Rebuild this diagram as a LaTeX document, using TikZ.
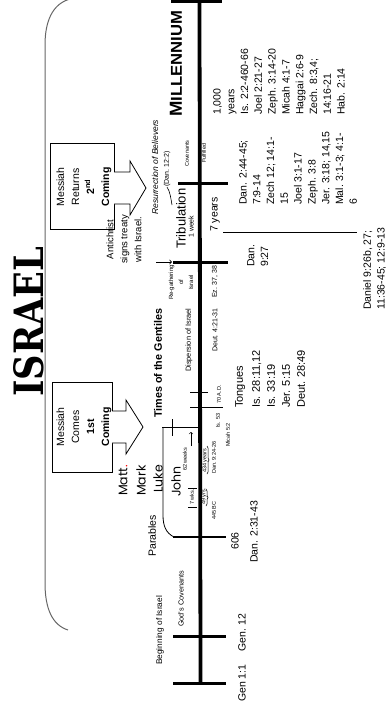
\documentclass[tikz,border=0pt]{standalone}
\usepackage{fontspec}
\setmainfont{Liberation Sans}
\newfontfamily\gospelfont{Poppins}
\newfontfamily\slabfont{DejaVu Serif}
\usepackage{graphicx}
\usetikzlibrary{decorations.pathreplacing}
\begin{document}
\begin{tikzpicture}[x=1pt,y=-1pt,
  rt/.style={rotate=90, inner sep=0pt, anchor=west, font=\fontsize{10.5}{13.8}\selectfont},
  rtl/.style={rotate=90, inner sep=0pt, anchor=north west, align=left, font=\fontsize{10.5}{13.8}\selectfont},
  tiny/.style={rotate=90, inner sep=0pt, anchor=west, font=\fontsize{5.5}{6}\selectfont},
  small/.style={rotate=90, inner sep=0pt, anchor=west, font=\fontsize{7}{8}\selectfont},
  gospel/.style={rotate=90, inner sep=0pt, anchor=west, font=\gospelfont\fontsize{12.5}{14}\selectfont},
  bar/.style={line width=3pt},
  thinbar/.style={line width=1.3pt},
  tick/.style={line width=0.8pt},
  boxtext/.style={rotate=90, inner sep=0pt, align=center, font=\fontsize{10.5}{15}\selectfont},
  blockarrow/.style={draw, line width=0.8pt, fill=white},
]
\useasboundingbox (0,0) rectangle (390,713);
% big bracket
\draw[gray!80!black, line width=1pt] (70,-1) .. controls (52,4) and (45,22) .. (45,45) -- (45,583) .. controls (45,608) and (52,625) .. (68,630);
% title
\node[rotate=90, inner sep=0pt, anchor=south west] (title) at (44,397) {\resizebox{150pt}{30pt}{\slabfont\bfseries ISRAEL}};
% timeline
\coordinate (tltop) at (199.5,0);
\coordinate (tlbot) at (200.5,683);
\draw[line width=3.8pt] (tltop) -- (tlbot);
% bars
\draw[bar] (171,1.5) -- (222,1.5);
\draw[bar] (178,183) -- (228,183);
\draw[bar] (173,262) -- (228,262);
\draw[tick] (190,392) -- (208,392);
\draw[tick] (190,407) -- (223,407);
\draw[thinbar] (173,537) -- (226,537);
\draw[bar] (173,636) -- (226,636);
\draw[bar] (173,683) -- (226,683);
% cross
\draw[line width=1pt] (162,427) -- (199,427);
\draw[line width=1pt] (172,419) -- (172,436);
% gospel bracket
\draw[line width=0.8pt] (174,537) .. controls (166,533) and (163,526) .. (163,515) -- (163,428);
% boxes
\node[draw, line width=0.8pt, minimum width=64pt, minimum height=86pt, inner sep=0pt] (box2) at (82,186) {};
\draw[blockarrow] (114,172) -- (130,172) -- (130,161) -- (146,188) -- (130,215) -- (130,204) -- (114,204);
\node[boxtext] (box2t) at (84,187) {Messiah\\Returns\\\textbf{2\textsuperscript{nd}}\\\textbf{Coming}};
\node[draw, line width=0.8pt, minimum width=60pt, minimum height=90pt, inner sep=0pt] (box1) at (82,427) {};
\draw[blockarrow] (112,411) -- (126,411) -- (126,400) -- (143,427) -- (126,454) -- (126,443) -- (112,443);
\node[boxtext] (box1t) at (84,427) {Messiah\\Comes\\\textbf{1st}\\\textbf{Coming}};
% upper labels
\node[rotate=90, inner sep=0pt, anchor=west] (mill) at (176,117) {\resizebox{106pt}{12pt}{\bfseries M\fontsize{9}{10}\selectfont ILLENNIUM}};
\node[rotate=90, inner sep=0pt, anchor=west, font=\itshape\fontsize{8.5}{9}\selectfont] (resur) at (155,215) {Resurrection of Believers};
\node[small] (dan122) at (167,187) {(Dan. 12:2)};
\draw[line width=0.6pt] (dan122.west) .. controls +(3,4) and +(-1,-6) .. (172,205);
\node[small, font=\fontsize{5.5}{6}\selectfont] (cov) at (187,167) {Covenants};
\node[tiny] (fulf) at (204,163) {Fulfilled};
\node[rt, font=\fontsize{13}{14}\selectfont] (trib) at (181,249) {Tribulation};
\node[small] (week) at (191,238) {1 week};
\node[rt, align=center, font=\fontsize{9.5}{14}\selectfont] (anti) at (124,264) {Antichrist\\signs treaty\\with Israel.};
\draw[->, line width=0.8pt] (156,262) -- (172,262);
\node[small, align=center, font=\fontsize{6}{10}\selectfont] (regath) at (181,300) {Re-gathering\\of\\Israel};
\node[rt, font=\bfseries\fontsize{10.8}{11}\selectfont] (times) at (158,418) {Times of the Gentiles};
\node[small, font=\fontsize{7.4}{8}\selectfont] (disp) at (189,372) {Dispersion of Israel};
\node[small] (deut4) at (215,352) {Deut. 4:21-31};
\node[small] (ez) at (215,298) {Ez. 37, 38};
\node[tiny] (ad70) at (219,404) {70 A.D.};
\node[tiny] (is53) at (218,428) {Is. 53};
\node[tiny] (mic) at (228,447) {Micah 5:2};
% gospels
\node[gospel] (matt) at (123,496) {Matt\textcolor{red}{.}};
\node[gospel] (mark) at (141,496) {Mark};
\node[gospel] (luke) at (158,493) {Luke};
\node[gospel] (john) at (176,497) {John};
\node[tiny] (w62) at (185,471) {62 weeks};
\draw[->, line width=0.6pt] (191,446) -- (191,432);
\node[rt] (parab) at (152,557) {Parables};
% 70 weeks
\draw[tick] (188,507) -- (197,507);
\draw[tick] (188,488) -- (197,488);
\node[tiny] (w7) at (192,505) {7 wks.};
\node[tiny] (y49) at (204,505) {49 yrs.};
\node[tiny] (y434) at (205,473) {434 years};
\draw[decorate, decoration={brace, amplitude=2pt}, line width=0.5pt] (207,446) -- (207,474);
\draw[decorate, decoration={brace, amplitude=2pt}, line width=0.5pt] (206,489) -- (206,506);
\node[tiny] (dan924) at (214,474) {Dan. 9:24-26};
\node[tiny] (bc445) at (214,520) {445 BC};
% lower labels
\node[rt] (n606) at (235,550) {606};
\node[rt] (dan231) at (254,563) {Dan. 2:31-43};
\node[rt] (gen12) at (242,652) {Gen. 12};
\node[rt] (gen11) at (242,702) {Gen 1:1};
\node[rotate=90, inner sep=0pt, anchor=west, font=\fontsize{8.3}{9}\selectfont] (begin) at (160,665) {Beginning of Israel};
\node[rotate=90, inner sep=0pt, anchor=west, font=\fontsize{7.3}{8}\selectfont] (gods) at (181,627) {God's Covenants};
% reference lists
\node[rtl] (mlist) at (213,115) {1,000\\years\\Is. 2:2-460-66\\Joel 2:21-27\\Zeph. 3:14-20\\Micah 4:1-7\\Haggai 2:6-9\\Zech. 8:3,4;\\14:16-21\\Hab. 2:14};
\node[rt] (sev) at (215,232) {7 years};
\draw[line width=0.6pt] (223,232) -- (357,232);
\node[rtl] (tlist) at (239,205) {Dan. 2:44-45;\\7:9-14\\Zech 12; 14:1-\\15\\Joel 3:1-17\\Zeph. 3:8\\Jer. 3:18; 14,15\\Mal. 3:1-3; 4:1-\\6};
\node[rtl] (dan927) at (247,267) {Dan.\\9:27};
\node[rtl] (dan926) at (363,310) {Daniel 9:26b, 27;\\11:36-45; 12:9-13};
\node[rtl, font=\fontsize{11}{15}\selectfont] (glist) at (235,408) {Tongues\\[2pt]Is. 28:11,12\\Is. 33:19\\Jer. 5:15\\Deut. 28:49};
\end{tikzpicture}
\end{document}
